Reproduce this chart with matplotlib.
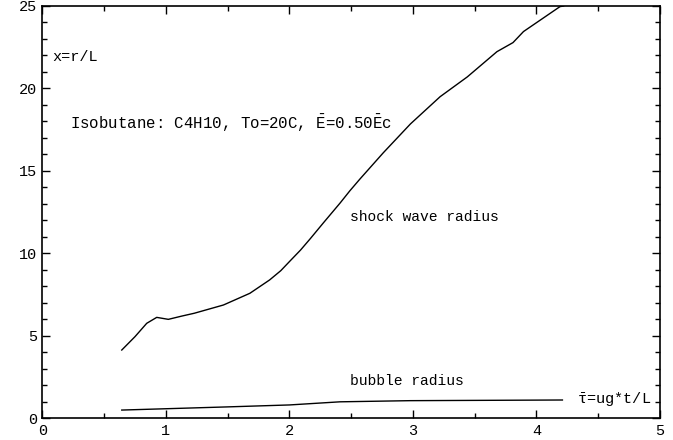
import matplotlib
matplotlib.use("Agg")
import matplotlib.pyplot as plt
from matplotlib.ticker import MultipleLocator

plt.rcParams['font.family'] = ['Liberation Mono', 'DejaVu Sans']
plt.rcParams['mathtext.fontset'] = 'custom'
plt.rcParams['mathtext.rm'] = 'Liberation Mono'
plt.rcParams['mathtext.it'] = 'Liberation Mono'

# Shock wave radius x = r/L versus tau
shock_t = [0.643, 0.75, 0.845, 0.926, 1.02, 1.13, 1.23, 1.466, 1.68, 1.84, 1.93,
           2.0, 2.09, 2.17, 2.275, 2.41, 2.49, 2.57, 2.76, 2.98, 3.22, 3.44, 3.68,
           3.81, 3.895, 4.19, 4.22]
shock_x = [4.14, 4.95, 5.76, 6.12, 6.0, 6.2, 6.37, 6.87, 7.58, 8.39, 8.95,
           9.5, 10.2, 10.9, 11.85, 13.05, 13.8, 14.5, 16.1, 17.85, 19.5, 20.7, 22.23,
           22.78, 23.45, 24.96, 25.0]

# Bubble radius
bubble_t = [0.643, 1.0, 1.49, 2.0, 2.41, 2.98, 3.6, 4.21]
bubble_x = [0.50, 0.58, 0.69, 0.81, 1.0, 1.07, 1.09, 1.11]

fig = plt.figure(figsize=(6.73, 4.40), dpi=100)
ax = fig.add_axes([0.0629, 0.0493, 0.9178, 0.9371])

ax.plot(shock_t, shock_x, color='black', lw=1.0)
ax.plot(bubble_t, bubble_x, color='black', lw=1.0)

ax.set_xlim(0, 5)
ax.set_ylim(0, 25)
ax.xaxis.set_major_locator(MultipleLocator(1))
ax.xaxis.set_minor_locator(MultipleLocator(0.5))
ax.yaxis.set_major_locator(MultipleLocator(5))
ax.yaxis.set_minor_locator(MultipleLocator(1))
ax.tick_params(which='both', direction='in', top=True, right=True, labelsize=11, width=1.0)
ax.tick_params(which='major', length=6)
ax.tick_params(which='minor', length=3.5)
ax.tick_params(axis='x', pad=4)
for s in ax.spines.values():
    s.set_linewidth(1.2)

ax.text(0.08, 21.9, "x=r/L", fontsize=11, va='center', ha='left')
ax.text(0.225, 17.9, r"Isobutane: C4H10, To=20C, $\mathrm{\bar{E}}$=0.50$\mathrm{\bar{E}}$c",
        fontsize=11.3, va='center', ha='left')
ax.text(2.49, 12.2, "shock wave radius", fontsize=10.5, va='center', ha='left')
ax.text(2.49, 2.25, "bubble radius", fontsize=10.5, va='center', ha='left')
ax.text(4.33, 1.15, r"$\bar{\tau}$=ug*t/L", fontsize=11, va='center', ha='left')

fig.savefig("out.png", dpi=100)
